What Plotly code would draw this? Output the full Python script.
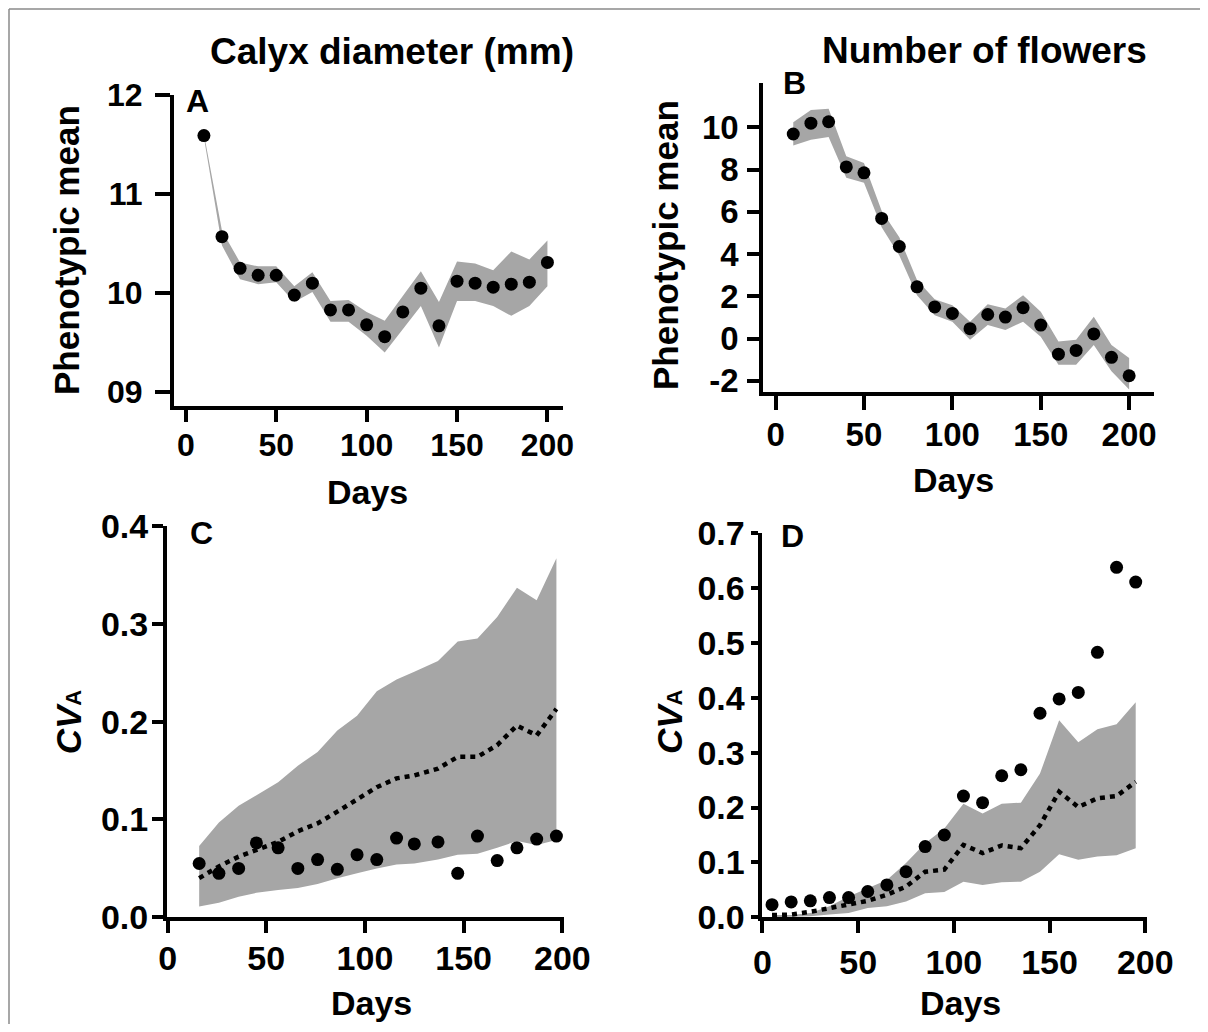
import plotly.graph_objects as go

# ---------------- data ----------------
days_ab = [10, 20, 30, 40, 50, 60, 70, 80, 90, 100, 110, 120, 130, 140, 150, 160, 170, 180, 190, 200]

calyx_mean = [11.59, 10.57, 10.25, 10.18, 10.18, 9.98, 10.10, 9.83, 9.83, 9.68,
              9.56, 9.81, 10.05, 9.67, 10.12, 10.10, 10.06, 10.09, 10.11, 10.31]
calyx_upper = [11.61, 10.63, 10.31, 10.27, 10.27, 10.07, 10.21, 9.92, 9.93, 9.81,
               9.72, 9.97, 10.22, 9.91, 10.32, 10.30, 10.23, 10.42, 10.34, 10.53]
calyx_lower = [11.57, 10.48, 10.14, 10.09, 10.11, 9.91, 10.01, 9.71, 9.71, 9.57,
               9.40, 9.64, 9.87, 9.45, 9.92, 9.92, 9.87, 9.77, 9.87, 10.07]

flowers_mean = [9.69, 10.20, 10.27, 8.13, 7.85, 5.69, 4.36, 2.45, 1.50, 1.19,
                0.47, 1.14, 1.02, 1.46, 0.64, -0.74, -0.56, 0.22, -0.89, -1.76]
flowers_upper = [10.24, 10.83, 10.88, 8.64, 8.32, 6.05, 4.80, 2.77, 1.86, 1.58,
                 0.80, 1.63, 1.43, 2.05, 1.27, -0.14, -0.06, 1.03, -0.30, -0.92]
flowers_lower = [9.14, 9.42, 9.55, 7.62, 7.38, 5.27, 3.93, 2.05, 1.11, 0.80,
                 -0.06, 0.64, 0.41, 0.80, 0.09, -1.24, -1.24, -0.30, -1.55, -2.41]

days_c = [16, 26, 36, 45, 56, 66, 76, 86, 96, 106, 116, 125, 137, 147, 157, 167, 177, 187, 197]
cva_c_obs = [0.055, 0.045, 0.050, 0.076, 0.071, 0.050, 0.059, 0.049, 0.064, 0.059,
             0.081, 0.075, 0.077, 0.045, 0.083, 0.058, 0.071, 0.080, 0.083]
cva_c_sim = [0.040, 0.052, 0.062, 0.069, 0.077, 0.088, 0.096, 0.108, 0.120, 0.133,
             0.142, 0.145, 0.152, 0.164, 0.164, 0.176, 0.196, 0.186, 0.213]
cva_c_upper = [0.073, 0.097, 0.114, 0.125, 0.138, 0.155, 0.169, 0.191, 0.206, 0.231,
               0.243, 0.251, 0.262, 0.282, 0.285, 0.307, 0.337, 0.324, 0.367]
cva_c_lower = [0.011, 0.015, 0.021, 0.025, 0.028, 0.030, 0.034, 0.040, 0.045, 0.050,
               0.054, 0.055, 0.059, 0.064, 0.065, 0.071, 0.078, 0.074, 0.079]

days_d = [5, 15, 25, 35, 45, 55, 65, 75, 85, 95, 105, 115, 125, 135, 145, 155, 165, 175, 185, 195]
cva_d_obs = [0.023, 0.028, 0.030, 0.036, 0.036, 0.047, 0.059, 0.083, 0.129, 0.150,
             0.221, 0.209, 0.258, 0.269, 0.372, 0.398, 0.410, 0.483, 0.638, 0.611]
cva_d_sim = [0.004, 0.005, 0.010, 0.017, 0.022, 0.030, 0.041, 0.056, 0.083, 0.087,
             0.132, 0.117, 0.131, 0.126, 0.168, 0.229, 0.201, 0.217, 0.221, 0.247]
cva_d_upper = [0.004, 0.004, 0.008, 0.020, 0.038, 0.053, 0.068, 0.099, 0.135, 0.162,
               0.207, 0.189, 0.207, 0.209, 0.262, 0.359, 0.319, 0.343, 0.352, 0.392]
cva_d_lower = [0.000, 0.001, 0.002, 0.005, 0.008, 0.017, 0.020, 0.029, 0.044, 0.046,
               0.065, 0.059, 0.064, 0.065, 0.083, 0.115, 0.105, 0.111, 0.113, 0.126]

x_ticks = [0, 50, 100, 150, 200]
a_yticks = [9, 10, 11, 12]
a_yticktext = ["09", "10", "11", "12"]
b_yticks = [-2, 0, 2, 4, 6, 8, 10]
c_yticks = [0.0, 0.1, 0.2, 0.3, 0.4]
d_yticks = [0.0, 0.1, 0.2, 0.3, 0.4, 0.5, 0.6, 0.7]

# ---------------- layout helpers ----------------
FW, FH, OFF = 1192, 1016, 8
FONT = "Liberation Sans, Arial, sans-serif"
BAND = "#a6a6a6"


def px(x):
    return (x - OFF) / FW


def py(y):
    return 1 - (y - OFF) / FH


fig = go.Figure()


def add_panel(n, x, upper, lower, obs, sim=None):
    xa = "x" if n == 1 else f"x{n}"
    ya = "y" if n == 1 else f"y{n}"
    fig.add_trace(go.Scatter(x=x, y=lower, mode="lines", line=dict(width=0, color=BAND),
                             xaxis=xa, yaxis=ya, hoverinfo="skip"))
    fig.add_trace(go.Scatter(x=x, y=upper, mode="lines", line=dict(width=0, color=BAND),
                             fill="tonexty", fillcolor=BAND, xaxis=xa, yaxis=ya, hoverinfo="skip"))
    if sim is not None:
        fig.add_trace(go.Scatter(x=x, y=sim, mode="lines",
                                 line=dict(color="black", width=4.5, dash="5px,5px"),
                                 xaxis=xa, yaxis=ya))
    fig.add_trace(go.Scatter(x=x, y=obs, mode="markers",
                             marker=dict(color="black", size=13),
                             xaxis=xa, yaxis=ya))


add_panel(1, days_ab, calyx_upper, calyx_lower, calyx_mean)
add_panel(2, days_ab, flowers_upper, flowers_lower, flowers_mean)
add_panel(3, days_c, cva_c_upper, cva_c_lower, cva_c_obs, cva_c_sim)
add_panel(4, days_d, cva_d_upper, cva_d_lower, cva_d_obs, cva_d_sim)


def axis(anchor, domain, rng, tickvals, ticktext, ticklen, size, standoff):
    return dict(anchor=anchor, domain=domain, range=rng, tickvals=tickvals, ticktext=ticktext,
                showline=True, linecolor="black", linewidth=4, ticks="outside",
                ticklen=ticklen, tickwidth=4, tickcolor="black", showgrid=False,
                zeroline=False, automargin=False,
                tickfont=dict(family=FONT, size=size, color="black", weight="bold"),
                ticklabelstandoff=standoff, fixedrange=True)


LW2 = 2  # half axis line width
# panel axis-line positions (page px)
A = dict(x0=171.9, x1=562.8, y0=95, y1=408.3)
B = dict(x0=761.2, x1=1153.9, y0=83.3, y1=394)
C = dict(x0=165, x1=564.3, y0=526, y1=919.3)
D = dict(x0=759.5, x1=1147, y0=533.3, y1=919.3)


def dom(p):
    return [px(p["x0"] + LW2), px(p["x1"])], [py(p["y1"] - LW2), py(p["y0"])]


ax_, ay_ = dom(A)
bx_, by_ = dom(B)
cx_, cy_ = dom(C)
dx_, dy_ = dom(D)

fig.update_layout(
    template="none",
    width=FW, height=FH,
    margin=dict(l=0, r=0, t=0, b=0, pad=0),
    paper_bgcolor="white", plot_bgcolor="white",
    showlegend=False,
    xaxis=axis("y", ax_, [-6.6, 208.5], x_ticks, [str(v) for v in x_ticks], 12, 32, -5),
    yaxis=axis("x", ay_, [8.857, 12], a_yticks, a_yticktext, 15, 32, 6),
    xaxis2=axis("y2", bx_, [-7.0, 214], x_ticks, [str(v) for v in x_ticks], 14, 33, -4),
    yaxis2=axis("x2", by_, [-2.53, 12.09], b_yticks, [str(v) for v in b_yticks], 12, 33, 2),
    xaxis3=axis("y3", cx_, [-0.3, 201], x_ticks, [str(v) for v in x_ticks], 12, 34, -4),
    yaxis3=axis("x3", cy_, [0, 0.4], c_yticks, [f"{v:.1f}" for v in c_yticks], 11, 34, -3),
    xaxis4=axis("y4", dx_, [-0.5, 200.9], x_ticks, [str(v) for v in x_ticks], 12, 34, 0),
    yaxis4=axis("x4", dy_, [0, 0.7], d_yticks, [f"{v:.1f}" for v in d_yticks], 7, 34, -1),
)


def ann(text, x, y, size, angle=0):
    fig.add_annotation(text=text, x=px(x), y=py(y), xref="paper", yref="paper",
                       xanchor="center", yanchor="middle", showarrow=False, textangle=angle,
                       font=dict(family=FONT, size=size, color="black", weight="bold"))


ann("Calyx diameter (mm)", 391.7, 51.7, 37)
ann("Number of flowers", 984, 50, 37)
ann("A", 197, 101, 32)
ann("B", 794, 83.5, 32)
ann("C", 201.5, 533, 32)
ann("D", 793, 536, 32)
ann("Phenotypic mean", 66, 250, 35, -90)
ann("Phenotypic mean", 665, 245, 35, -90)
cva = '<i>CV</i><span style="font-size:22px">A</span>'
ann(cva, 68.3, 722, 35, -90)
ann(cva, 669, 722, 35, -90)
ann("Days", 367, 491.7, 34)
ann("Days", 953, 480, 34)
ann("Days", 371, 1003, 34)
ann("Days", 960.5, 1003, 34)

# thin grey frame (top and left edges)
fig.add_shape(type="line", xref="paper", yref="paper", x0=px(9), x1=px(1250), y0=py(9), y1=py(9),
              line=dict(color="#8a8a8a", width=1.5))
fig.add_shape(type="line", xref="paper", yref="paper", x0=px(9), x1=px(9), y0=py(9), y1=py(1100),
              line=dict(color="#8a8a8a", width=1.5))

fig.write_html("out.html")
